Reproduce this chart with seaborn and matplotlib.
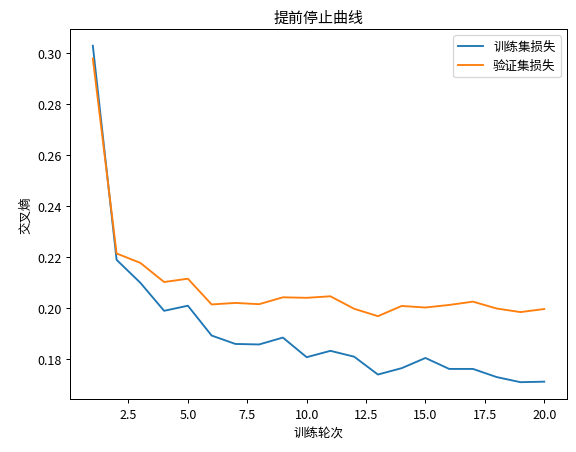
import matplotlib
matplotlib.use("Agg")
import matplotlib.pyplot as plt
import seaborn as sns
import pandas as pd

epochs = list(range(1, 21))
train_loss = [0.303, 0.219, 0.210, 0.199, 0.201, 0.1893, 0.186, 0.1858, 0.1885, 0.1808,
              0.1833, 0.181, 0.174, 0.1765, 0.1805, 0.1762, 0.1762, 0.173, 0.171, 0.1712]
val_loss = [0.298, 0.2215, 0.2178, 0.2103, 0.2116, 0.2015, 0.2021, 0.2016, 0.2043, 0.2041,
            0.2047, 0.1998, 0.1969, 0.2009, 0.2003, 0.2013, 0.2026, 0.1999, 0.1985, 0.1997]

plt.rcParams['font.family'] = ['Noto Sans CJK SC', 'DejaVu Sans']
plt.rcParams['axes.unicode_minus'] = False

df = pd.DataFrame({'epoch': epochs * 2,
                   'loss': train_loss + val_loss,
                   'set': ['训练集损失'] * 20 + ['验证集损失'] * 20})

fig, ax = plt.subplots(figsize=(6.4, 5.033), dpi=90)
fig.subplots_adjust(left=0.122, right=0.984, top=0.934, bottom=0.117)
sns.lineplot(data=df, x='epoch', y='loss', hue='set', ax=ax,
             palette=['#1f77b4', '#ff7f0e'])
ax.legend(title=None)
ax.set_title('提前停止曲线')
ax.set_xlabel('训练轮次')
ax.set_ylabel('交叉熵')
fig.savefig('out.png', dpi=90)
